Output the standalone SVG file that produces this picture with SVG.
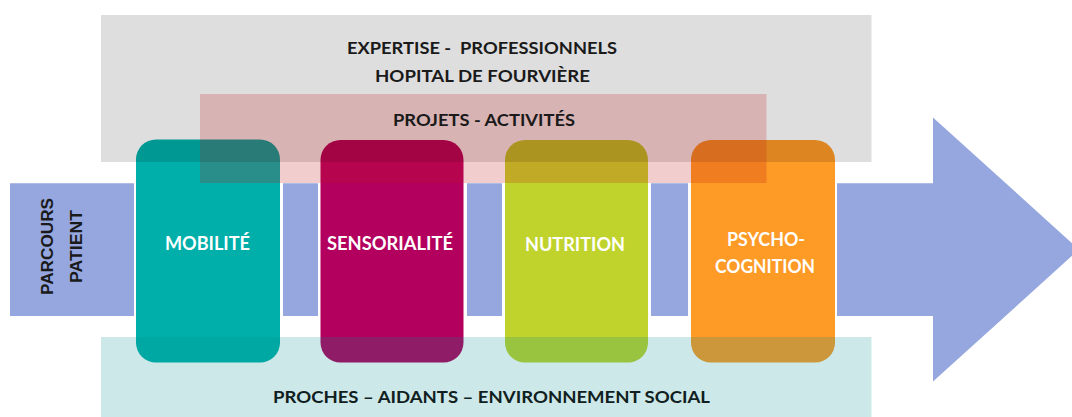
<svg xmlns="http://www.w3.org/2000/svg" width="1072" height="417" viewBox="0 0 1072 417">
<style>
.card-label{font-family:Lato,"Liberation Sans",sans-serif;font-weight:700;font-size:19px;fill:#ffffff;text-anchor:middle}
.band-label{font-family:Lato,"Liberation Sans",sans-serif;font-weight:700;font-size:17.5px;fill:#1a1a1a;text-anchor:middle}
.side-label{font-family:"Liberation Sans",Arial,sans-serif;font-weight:700;font-size:17px;fill:#1a1a1a;text-anchor:middle}
.card{stroke:none}
</style>
<rect width="1072" height="417" fill="#ffffff"/>
<g id="parcours-patient">
  <path d="M10 183.3H134V316H10Z M283 183.3H318V316H283Z M467 183.3H502V316H467Z M651 183.3H688V316H651Z M837 183.3H933V117.5L1079 249.5L933 381.5V316H837Z" fill="#95a7de"/>
  <text class="side-label" transform="translate(53,246.5) rotate(-90)" textLength="97" lengthAdjust="spacingAndGlyphs">PARCOURS</text>
  <text class="side-label" transform="translate(82,246.5) rotate(-90)" textLength="73" lengthAdjust="spacingAndGlyphs">PATIENT</text>
</g>
<g id="mobilite">
  <rect class="card" x="136" y="139.5" width="144" height="223" rx="20" fill="#00afa9"/>
</g>
<g id="sensorialite">
  <rect class="card" x="320.5" y="140" width="143" height="222.5" rx="20" fill="#b3005e"/>
</g>
<g id="nutrition">
  <rect class="card" x="505" y="140" width="143" height="222.5" rx="20" fill="#c0d32c"/>
</g>
<g id="psycho-cognition">
  <rect class="card" x="691" y="140" width="144" height="222.5" rx="20" fill="#fe9a26"/>
</g>
<g id="expertise">
  <rect x="101" y="15" width="770.5" height="147" fill="#000000" fill-opacity="0.13"/>
  <text class="band-label" x="482" y="54" textLength="270" lengthAdjust="spacingAndGlyphs" xml:space="preserve" style="white-space:pre">EXPERTISE -  PROFESSIONNELS</text>
  <text class="band-label" x="482.5" y="82" textLength="215" lengthAdjust="spacingAndGlyphs">HOPITAL DE FOURVIÈRE</text>
</g>
<g id="projets">
  <rect x="200" y="94" width="566.5" height="89" fill="rgb(192,20,20)" fill-opacity="0.21"/>
  <text class="band-label" x="484" y="126" textLength="182" lengthAdjust="spacingAndGlyphs">PROJETS - ACTIVITÉS</text>
</g>
<g id="proches">
  <rect x="101" y="337" width="770.5" height="80" fill="rgb(0,140,140)" fill-opacity="0.2"/>
  <text class="band-label" x="491.5" y="403" textLength="437" lengthAdjust="spacingAndGlyphs" style="fill:#102020">PROCHES – AIDANTS – ENVIRONNEMENT SOCIAL</text>
</g>
<g id="card-labels">
  <text class="card-label" x="207.5" y="250" textLength="85" lengthAdjust="spacingAndGlyphs">MOBILITÉ</text>
  <text class="card-label" x="390" y="250" textLength="126" lengthAdjust="spacingAndGlyphs">SENSORIALITÉ</text>
  <text class="card-label" x="575" y="250.5" textLength="100" lengthAdjust="spacingAndGlyphs">NUTRITION</text>
  <text class="card-label" x="766" y="246" textLength="78" lengthAdjust="spacingAndGlyphs">PSYCHO-</text>
  <text class="card-label" x="765" y="273" textLength="100" lengthAdjust="spacingAndGlyphs">COGNITION</text>
</g>
<g id="connectors"/>
</svg>
